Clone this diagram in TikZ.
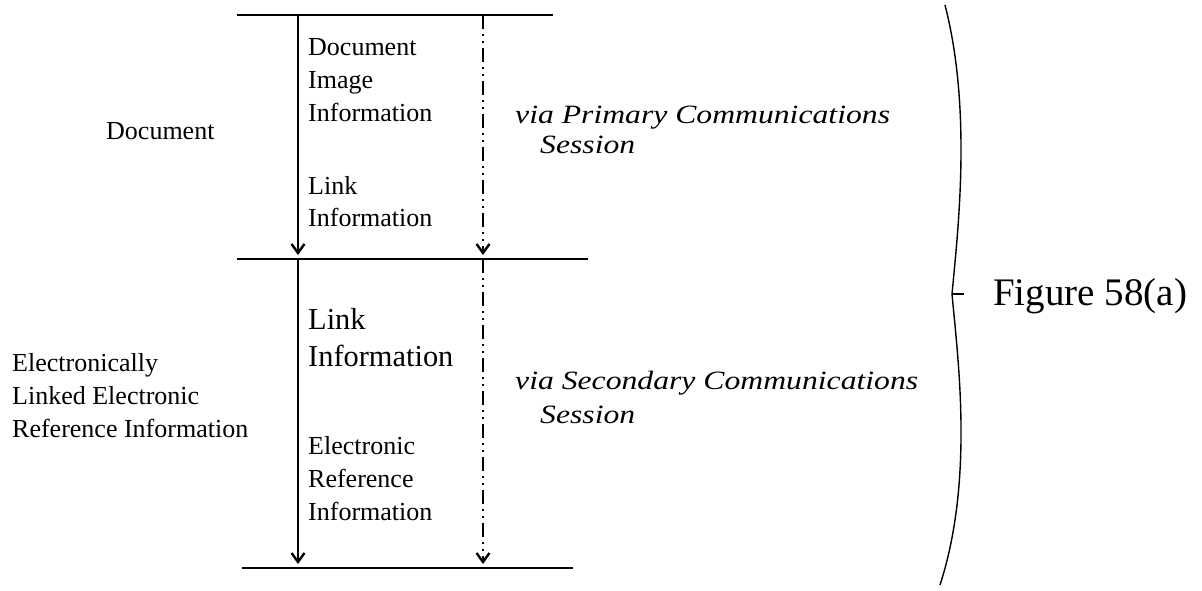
\documentclass[tikz,border=0pt]{standalone}
\usepackage{fontspec}
\setmainfont{Liberation Serif}
\newfontfamily\viafamily{Liberation Serif}[FakeStretch=1.2]
\usetikzlibrary{arrows.meta}

\newcommand{\bodyfont}{\fontsize{26}{33}\selectfont}
\newcommand{\bigfont}{\fontsize{30.4}{37}\selectfont}
\newcommand{\viafont}{\viafamily\itshape\fontsize{26.4}{33}\selectfont}
\newcommand{\figfont}{\fontsize{39}{44}\selectfont}

\begin{document}
\begin{tikzpicture}[
    x=1pt, y=-1pt,
    rule/.style={line width=2pt},
    arrow/.style={-{Straight Barb[length=9pt,width=13pt,line width=2.4pt]}, line width=1.2pt},
    dasharrow/.style={arrow, dash pattern=on 14pt off 5pt on 2pt off 5pt on 2pt off 5pt},
    lbl/.style={inner sep=0pt, anchor=base west, align=left, font=\bodyfont},
    via/.style={lbl, font=\viafont}
]
    \useasboundingbox (0,0) rectangle (1202,590);

    % session boundaries
    \coordinate (topL) at (237,15);  \coordinate (topR) at (553,15);
    \coordinate (midL) at (237,259); \coordinate (midR) at (588,259);
    \coordinate (botL) at (242,568); \coordinate (botR) at (573,568);
    \draw[rule] (topL) -- (topR);
    \draw[rule] (midL) -- (midR);
    \draw[rule] (botL) -- (botR);

    % flows
    \coordinate (docIn) at (298,15);   \coordinate (docOut) at (298,255);
    \coordinate (refIn) at (298,259);  \coordinate (refOut) at (298,564);
    \coordinate (priIn) at (483,15);   \coordinate (priOut) at (483,255);
    \coordinate (secIn) at (483,259);  \coordinate (secOut) at (483,564);
    \draw[arrow] (docIn) -- (docOut);
    \draw[arrow] (refIn) -- (refOut);
    \draw[dasharrow] (priIn) -- (priOut);
    \draw[dasharrow] (secIn) -- (secOut);

    % labels
    \node[lbl] (doc) at (106,139) {Document};
    \node[lbl] (docimg) at (308,121) {Document\\Image\\Information};
    \node[lbl] (link1) at (308,226) {Link\\[-1pt]Information};
    \node[via] (via1) at (515,153) {via Primary Communications\\[-3pt]\hspace*{25pt}Session};

    \node[lbl] (elinked) at (12,437) {Electronically\\Linked Electronic\\Reference Information};
    \node[lbl, font=\bigfont] (link2) at (308,366) {Link\\Information};
    \node[lbl] (eref) at (308,520) {Electronic\\Reference\\Information};
    \node[via] (via2) at (515,423) {via Secondary Communications\\[1pt]\hspace*{25pt}Session};

    % brace
    \coordinate (brTop) at (945,5);
    \coordinate (brTip) at (952,294);
    \coordinate (brBot) at (940,585);
    \coordinate (brTick) at (964,294);
    \draw[line width=1.4pt] (brTop) .. controls (972,110) and (958,230) .. (brTip)
        .. controls (958,360) and (974,480) .. (brBot);
    \draw[line width=1.4pt] (brTip) -- (brTick);
    \node[lbl, font=\figfont] (fig) at (993,305) {Figure 58(a)};
\end{tikzpicture}
\end{document}
